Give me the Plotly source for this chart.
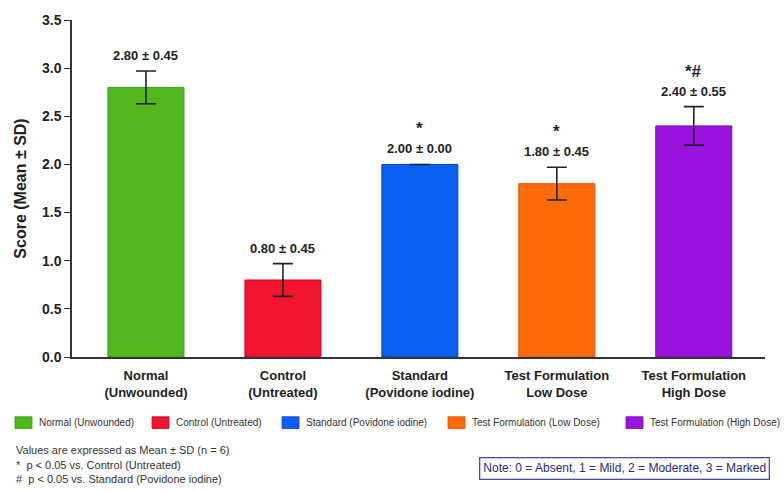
import plotly.graph_objects as go

# Wound-score data per treatment group
groups = ["Normal<br>(Unwounded)", "Control<br>(Untreated)", "Standard<br>(Povidone iodine)",
          "Test Formulation<br>Low Dose", "Test Formulation<br>High Dose"]
legend_names = ["Normal (Unwounded)", "Control (Untreated)", "Standard (Povidone iodine)",
                "Test Formulation (Low Dose)", "Test Formulation (High Dose)"]
means = [2.80, 0.80, 2.00, 1.80, 2.40]
sds = [0.45, 0.45, 0.00, 0.45, 0.55]
err_bars = [0.17, 0.17, 0.00, 0.17, 0.20]
signif = ["", "", "*", "*", "*#"]
y_ticks = [0.0, 0.5, 1.0, 1.5, 2.0, 2.5, 3.0, 3.5]

colors = ["#52b61f", "#f0142e", "#0c5ef2", "#ff6a0a", "#9a12de"]
edges = ["#3f9a12", "#c80a20", "#0a44c0", "#d85400", "#7a0cb8"]

W, H = 784, 492
ML, MR, MT, MB = 72, 19, 13, 135
PW, PH = W - ML - MR, H - MT - MB


def px_x(x):
    return (x - ML) / PW


def px_y(y):
    return (H - MB - y) / PH


FONT = "Arial, Liberation Sans"

fig = go.Figure()
for i, name in enumerate(legend_names):
    fig.add_trace(go.Bar(
        x=[i], y=[means[i]], name=name, width=0.555, showlegend=False,
        marker=dict(color=colors[i], line=dict(color=edges[i], width=1)),
        error_y=dict(type="data", array=[err_bars[i]], color="#222222",
                     thickness=1.6, width=10),
        hoverinfo="skip",
    ))

# Value labels and significance marks above each error bar
for i in range(len(means)):
    top = means[i] + err_bars[i]
    fig.add_annotation(x=i, y=top, yref="y", xref="x",
                       text=f"<b>{means[i]:.2f} ± {sds[i]:.2f}</b>",
                       showarrow=False, yanchor="bottom", yshift=6,
                       font=dict(family=FONT, size=13, color="#222222"))
    if signif[i]:
        fig.add_annotation(x=i, y=top, yref="y", xref="x",
                           text=f"<b>{signif[i]}</b>",
                           showarrow=False, yanchor="bottom", yshift=24,
                           font=dict(family=FONT, size=17, color="#222222"))

# Colour key below the chart
legend_x = [15, 152, 282, 448, 626]
legend_y = 424
for i, name in enumerate(legend_names):
    fig.add_shape(type="rect", xref="paper", yref="paper",
                  x0=px_x(legend_x[i]), x1=px_x(legend_x[i] + 17),
                  y0=px_y(legend_y + 6), y1=px_y(legend_y - 6),
                  fillcolor=colors[i], line=dict(color=edges[i], width=0.8))
    fig.add_annotation(xref="paper", yref="paper", x=px_x(legend_x[i] + 22), y=px_y(legend_y),
                       xanchor="left", yanchor="middle", text=name, showarrow=False,
                       font=dict(family=FONT, size=10, color="#333333"))

# Footnotes
foot = ["Values are expressed as Mean ± SD (n = 6)",
        "*  p < 0.05 vs. Control (Untreated)",
        "#  p < 0.05 vs. Standard (Povidone iodine)"]
for k, line in enumerate(foot):
    fig.add_annotation(xref="paper", yref="paper", x=px_x(14), y=px_y(452 + 15 * k),
                       xanchor="left", yanchor="middle", text=line, showarrow=False,
                       font=dict(family=FONT, size=11, color="#333333"))

# Scoring key box
fig.add_annotation(xref="paper", yref="paper", x=px_x(770), y=px_y(470.5),
                   xanchor="right", yanchor="middle",
                   text="Note: 0 = Absent, 1 = Mild, 2 = Moderate, 3 = Marked",
                   showarrow=False, bordercolor="#4b4ba8", borderwidth=1.3, borderpad=3,
                   bgcolor="white",
                   font=dict(family=FONT, size=12, color="#2a2a7a"))

fig.update_layout(
    width=W, height=H,
    margin=dict(l=ML, r=MR, t=MT, b=MB),
    paper_bgcolor="white", plot_bgcolor="white",
    font=dict(family=FONT, color="#222222"),
    showlegend=False,
    xaxis=dict(tickmode="array", tickvals=list(range(len(groups))),
               ticktext=[f"<b>{g}</b>" for g in groups],
               range=[-0.54, 4.52], showline=True, linecolor="#333333", linewidth=1.5,
               ticks="", ticklabelstandoff=6, tickfont=dict(size=13, color="#222222"),
               showgrid=False, zeroline=False),
    yaxis=dict(range=[0, 3.5], tickvals=y_ticks, ticktext=[f"<b>{v:.1f}</b>" for v in y_ticks],
               showline=True, linecolor="#333333", linewidth=1.5, ticks="outside",
               ticklen=6, tickcolor="#333333", tickfont=dict(size=14, color="#222222"),
               showgrid=False, zeroline=False,
               title=dict(text="<b>Score (Mean ± SD)</b>", font=dict(size=16, color="#222222"),
                          standoff=11)),
)

fig.write_html("out.html")
